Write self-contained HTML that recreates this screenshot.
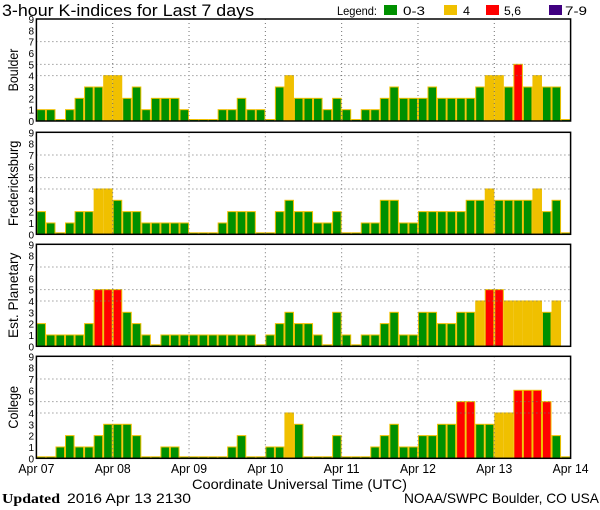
<!DOCTYPE html>
<html><head><meta charset="utf-8"><style>
html,body{margin:0;padding:0;background:#fff;}
svg{display:block;}
text{font-family:"Liberation Sans",sans-serif;fill:#000;}
</style></head><body>
<svg id="s" width="600" height="510" viewBox="0 0 600 510" xmlns="http://www.w3.org/2000/svg">
<text x="2" y="16" font-size="17" textLength="252" lengthAdjust="spacingAndGlyphs">3-hour K-indices for Last 7 days</text>
<text x="337" y="15" font-size="12" textLength="40" lengthAdjust="spacingAndGlyphs">Legend:</text>
<rect x="384" y="5" width="13" height="10" fill="#009000"/>
<text x="403" y="15" font-size="12" textLength="22" lengthAdjust="spacingAndGlyphs">0-3</text>
<rect x="444" y="5" width="13" height="10" fill="#f0c000"/>
<text x="463" y="15" font-size="12" textLength="7" lengthAdjust="spacingAndGlyphs">4</text>
<rect x="486" y="5" width="13" height="10" fill="#ff0000"/>
<text x="504" y="15" font-size="12" textLength="17" lengthAdjust="spacingAndGlyphs">5,6</text>
<rect x="549" y="5" width="13" height="10" fill="#400080"/>
<text x="565" y="15" font-size="12" textLength="22" lengthAdjust="spacingAndGlyphs">7-9</text>
<g id="panels"></g>
<text x="192" y="489" font-size="14" textLength="215" lengthAdjust="spacingAndGlyphs">Coordinate Universal Time (UTC)</text>
<text x="2" y="503" font-size="14" font-weight="bold" font-family="Liberation Serif" style="font-family:'Liberation Serif',serif" textLength="58" lengthAdjust="spacingAndGlyphs">Updated</text>
<text x="67" y="503" font-size="14" textLength="124" lengthAdjust="spacingAndGlyphs">2016 Apr 13 2130</text>
<text x="404" y="503" font-size="14" textLength="195" lengthAdjust="spacingAndGlyphs">NOAA/SWPC Boulder, CO USA</text>
</svg>
<script>
var data=[
["Boulder",19,[1,1,0,1,2,3,3,4,4,2,3,1,2,2,2,1,0,0,0,1,1,2,1,1,0,3,4,2,2,2,1,2,1,0,1,1,2,3,2,2,2,3,2,2,2,2,3,4,4,3,5,3,4,3,3,0]],
["Fredericksburg",132.3,[2,1,0,1,2,2,4,4,3,2,2,1,1,1,1,1,0,0,0,1,2,2,2,0,0,2,3,2,2,1,1,2,0,0,1,1,3,3,1,1,2,2,2,2,2,3,3,4,3,3,3,3,4,2,3,0]],
["Est. Planetary",244.3,[2,1,1,1,1,2,5,5,5,3,2,1,0,1,1,1,1,1,1,1,1,1,1,0,1,2,3,2,2,1,0,3,1,0,1,1,2,3,1,1,3,3,2,2,3,3,4,5,5,4,4,4,4,3,4,null]],
["College",356.3,[0,0,1,2,1,1,2,3,3,3,2,0,0,1,1,0,0,0,0,0,1,2,0,0,1,1,4,3,0,0,0,2,0,0,0,1,2,3,1,1,2,2,3,3,5,5,3,3,4,4,6,6,6,5,2,0]]
];
var x0=36.4,x1=570.6,H=102,bw=(x1-x0)/56,u=H/9;
var out="";
function col(v){return v>=7?"#400080":v>=5?"#ff0000":v==4?"#f0c000":"#009000";}
data.forEach(function(p){
  var top=p[1],bot=top+H;
  p[2].forEach(function(v,i){
    if(v===null)return;
    var h=v==0?1.5:v*u;
    out+='<rect x="'+(x0+i*bw+0.5).toFixed(2)+'" y="'+(bot-h).toFixed(2)+'" width="'+(bw-1).toFixed(2)+'" height="'+h.toFixed(2)+'" fill="'+col(v)+'" stroke="#f0c000" stroke-width="1"/>';
  });
  [4,5,7].forEach(function(k){var y=bot-k*u;out+='<line x1="'+x0+'" x2="'+x1+'" y1="'+y+'" y2="'+y+'" stroke="#707070" stroke-dasharray="1,3"/>';});
  for(var d=1;d<7;d++){var x=x0+d*8*bw;out+='<line x1="'+x+'" x2="'+x+'" y1="'+top+'" y2="'+bot+'" stroke="#707070" stroke-dasharray="1,3"/>';}
  out+='<rect x="'+x0+'" y="'+top+'" width="'+(x1-x0)+'" height="'+H+'" fill="none" stroke="#000" stroke-width="1.5"/>';
  for(var k=0;k<=9;k++){out+='<text x="34" y="'+(bot-k*u+4)+'" font-size="10" text-anchor="end">'+k+'</text>';}
  var cy=top+H/2,len=p[0].length*6.1;
  out+='<text transform="translate(18,'+cy+') rotate(-90)" font-size="14" text-anchor="middle" textLength="'+len+'" lengthAdjust="spacingAndGlyphs">'+p[0]+'</text>';
});
var days=["Apr 07","Apr 08","Apr 09","Apr 10","Apr 11","Apr 12","Apr 13","Apr 14"];
days.forEach(function(d,i){var x=x0+i*8*bw;out+='<text x="'+(x-18)+'" y="473" font-size="13" textLength="36" lengthAdjust="spacingAndGlyphs">'+d+'</text>';});
document.getElementById("panels").innerHTML=out;
</script>
</body></html>
